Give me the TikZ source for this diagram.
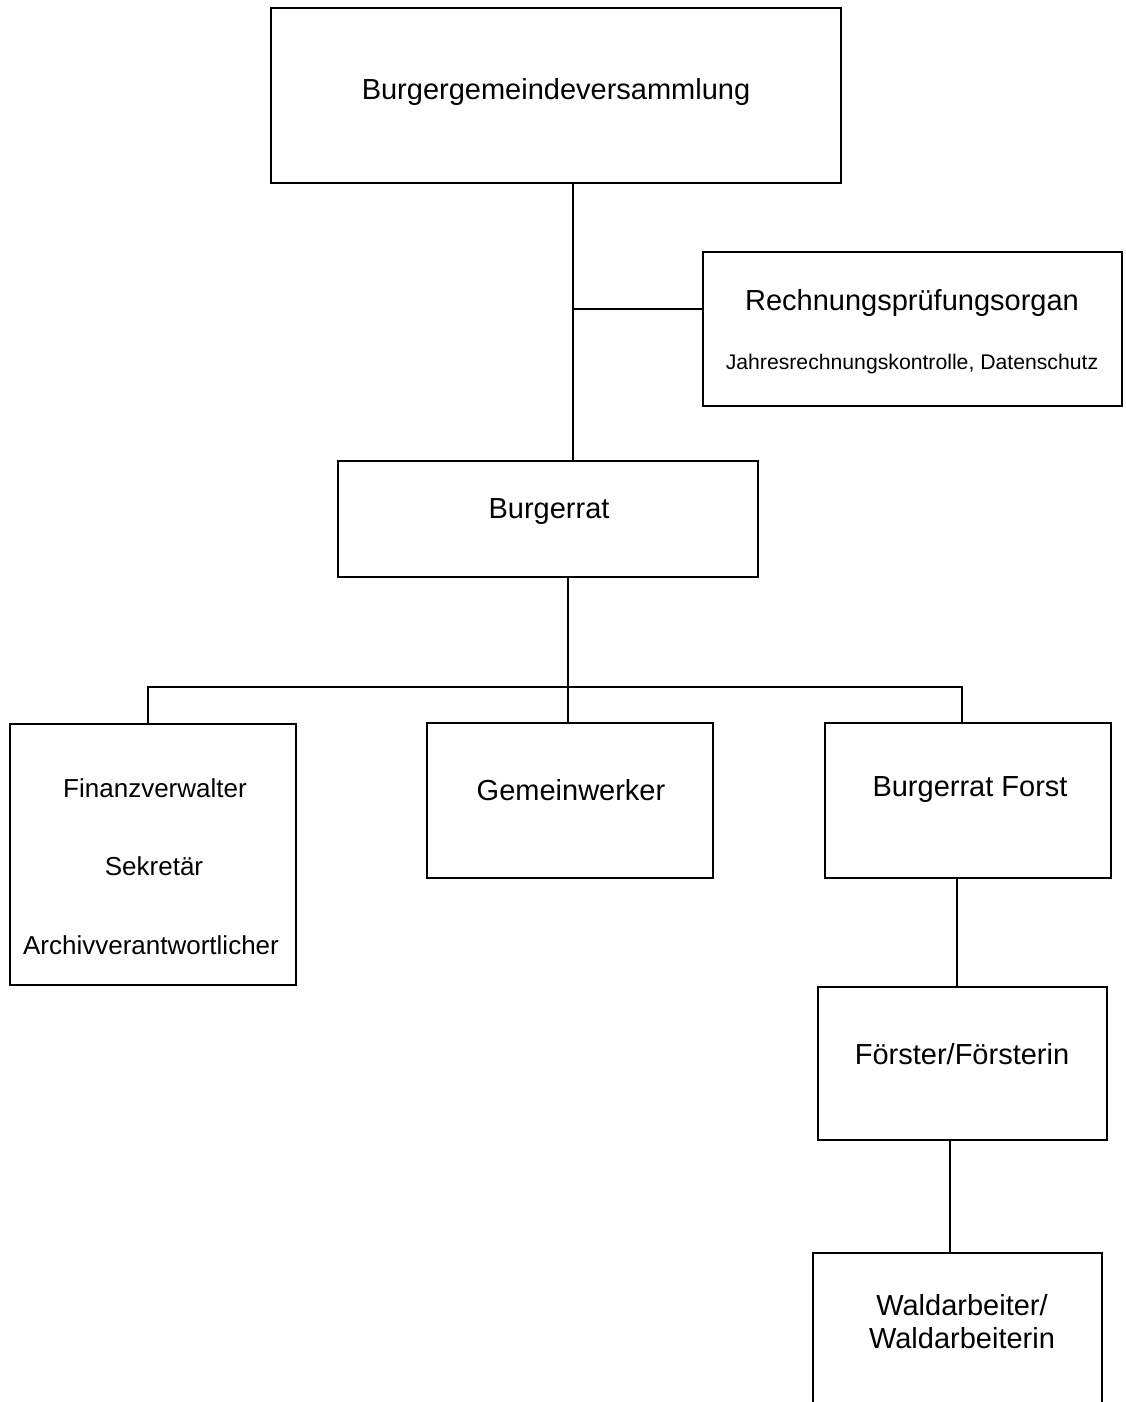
\documentclass[tikz,border=0pt]{standalone}
\usepackage{fontspec}
\setmainfont{Liberation Sans}
\begin{document}
\begin{tikzpicture}[x=1pt,y=-1pt,
  box/.style={draw,line width=1.6pt,rectangle,inner sep=0pt},
  lbl/.style={font=\fontsize{29}{34}\selectfont,inner sep=0pt,anchor=center},
  smlbl/.style={font=\fontsize{26}{31}\selectfont,inner sep=0pt,anchor=center},
  sublbl/.style={font=\fontsize{21.2}{25}\selectfont,inner sep=0pt,anchor=center},
  conn/.style={line width=1.6pt}]
\useasboundingbox[fill=white] (0,0) rectangle (1125,1402);
% boxes
\node[box,minimum width=570pt,minimum height=175pt] (top) at (556,95.5) {};
\node[box,minimum width=419pt,minimum height=154pt] (rpo) at (912.5,329) {};
\node[box,minimum width=420pt,minimum height=116pt] (brat) at (548,519) {};
\node[box,minimum width=286pt,minimum height=261pt] (fin) at (153,854.5) {};
\node[box,minimum width=286pt,minimum height=155pt] (gem) at (570,800.5) {};
\node[box,minimum width=286pt,minimum height=155pt] (forst) at (968,800.5) {};
\node[box,minimum width=289pt,minimum height=153pt] (foer) at (962.5,1063.5) {};
\coordinate (waldtop) at (957.5,1253);
\draw[conn] (813,1402) -- (813,1253) -- (1102,1253) -- (1102,1402);
% texts
\node[lbl] (t1) at (556,92) {Burgergemeindeversammlung};
\node[lbl] (t2) at (912,303) {Rechnungsprüfungsorgan};
\node[sublbl] (t3) at (912,364) {Jahresrechnungskontrolle, Datenschutz};
\node[lbl] (t4) at (549,512) {Burgerrat};
\node[smlbl] (t5) at (155,788) {Finanzverwalter};
\node[smlbl] (t6) at (154,866) {Sekretär};
\node[smlbl] (t7) at (151,945) {Archivverantwortlicher};
\node[lbl] (t8) at (571,790) {Gemeinwerker};
\node[lbl] (t9) at (970,790) {Burgerrat Forst};
\node[lbl] (t10) at (962,1054) {Förster/Försterin};
\node[lbl] (t11) at (962,1305) {Waldarbeiter/};
\node[lbl] (t12) at (962,1338) {Waldarbeiterin};
% connectors
\coordinate (j1) at (573,309);
\coordinate (j2) at (568,687);
\coordinate (bl) at (148,687);
\coordinate (br) at (962,687);
\coordinate (j3) at (957,900);
\coordinate (j4) at (950,1200);
\draw[conn] (top.south -| j1) -- (brat.north -| j1);
\draw[conn] (j1) -- (rpo.west |- j1);
\draw[conn] (brat.south -| j2) -- (gem.north -| j2);
\draw[conn] (bl |- fin.north) -- (bl) -- (br) -- (br |- forst.north);
\draw[conn] (forst.south -| j3) -- (foer.north -| j3);
\draw[conn] (foer.south -| j4) -- (waldtop -| j4);
\end{tikzpicture}
\end{document}
